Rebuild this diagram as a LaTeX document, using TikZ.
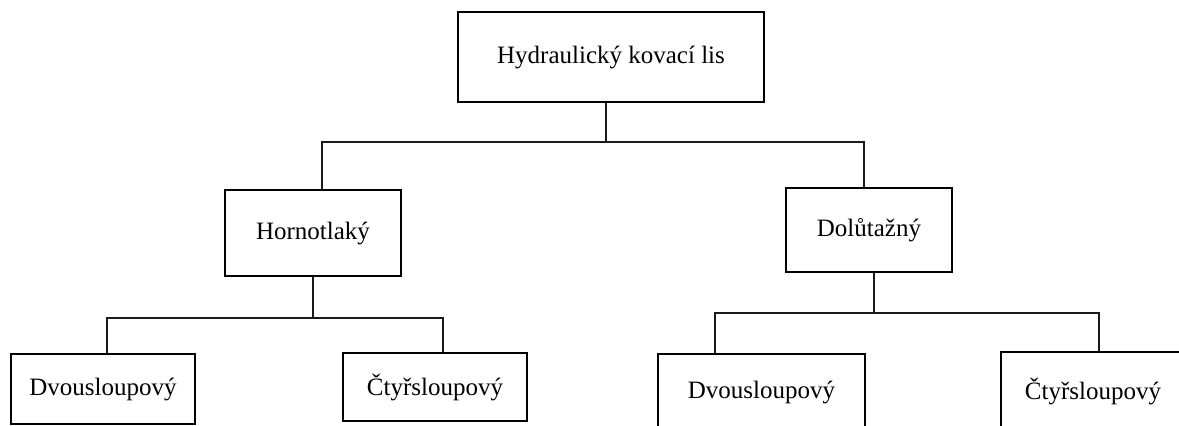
\documentclass[tikz,border=0pt]{standalone}
\usepackage{fontspec}
\setmainfont{Liberation Serif}
\usepackage{xcolor}
\definecolor{textcolor}{HTML}{000000}
\definecolor{blockborder}{HTML}{000000}
\definecolor{linkcolor}{HTML}{1a1a1a}
\usepackage{tikz}
\usetikzlibrary{positioning,calc}
\tikzset{
    block/.style={
        rectangle,
        draw=blockborder,
        fill=white,
        text=textcolor,
        minimum height=35pt,
        minimum width=92pt,
        align=center,
        line width=0.9pt,
        inner sep=0pt,
        font=\fontsize{12.5}{15}\selectfont,
    },
    link/.style={
        line width=0.9pt,
        linkcolor,
    },
}
\begin{document}
\begin{tikzpicture}[x=0.5pt, y=-0.5pt]
    \useasboundingbox (0,0) rectangle (1179,425);
    \clip (0,0) rectangle (1179,425);

    % Top level
    \node[block, minimum width=153pt, minimum height=45pt] (lis) at (611, 57) {Hydraulický kovací lis};

    % Second level
    \node[block, minimum width=88pt, minimum height=43pt] (horno) at (313, 233) {Hornotlaký};
    \node[block, minimum width=83pt, minimum height=42pt] (dolu) at (869, 230) {Dolůtažný};

    % Third level (left)
    \node[block] (horno-dvou) at (103, 389) {Dvousloupový};
    \node[block, minimum height=34pt] (horno-ctyr) at (435, 387) {Čtyřsloupový};

    % Third level (right, cut by the page edge)
    \node[block, minimum width=103.5pt, minimum height=38pt] (dolu-dvou) at (761.5, 392) {Dvousloupový};
    \node[block, minimum height=39pt] (dolu-ctyr) at (1093, 391) {Čtyřsloupový};

    % Junction points
    \coordinate (j-top) at (606, 142);
    \coordinate (j-left) at (322, 142);
    \coordinate (j-right) at (864, 142);
    \coordinate (j-horno) at (313, 318);
    \coordinate (j-horno-l) at (107, 318);
    \coordinate (j-horno-r) at (443, 318);
    \coordinate (j-dolu) at (874, 313);
    \coordinate (j-dolu-l) at (715, 313);
    \coordinate (j-dolu-r) at (1099, 313);

    % Links from the top box
    \draw[link] (lis.south -| j-top) -- (j-top);
    \draw[link] (j-left |- horno.north) -- (j-left) -- (j-right) -- (j-right |- dolu.north);

    % Links below Hornotlaky
    \draw[link] (horno.south) -- (j-horno);
    \draw[link] (j-horno-l |- horno-dvou.north) -- (j-horno-l) -- (j-horno-r) -- (j-horno-r |- horno-ctyr.north);

    % Links below Dolutazny
    \draw[link] (dolu.south -| j-dolu) -- (j-dolu);
    \draw[link] (j-dolu-l |- dolu-dvou.north) -- (j-dolu-l) -- (j-dolu-r) -- (j-dolu-r |- dolu-ctyr.north);

\end{tikzpicture}
\end{document}
